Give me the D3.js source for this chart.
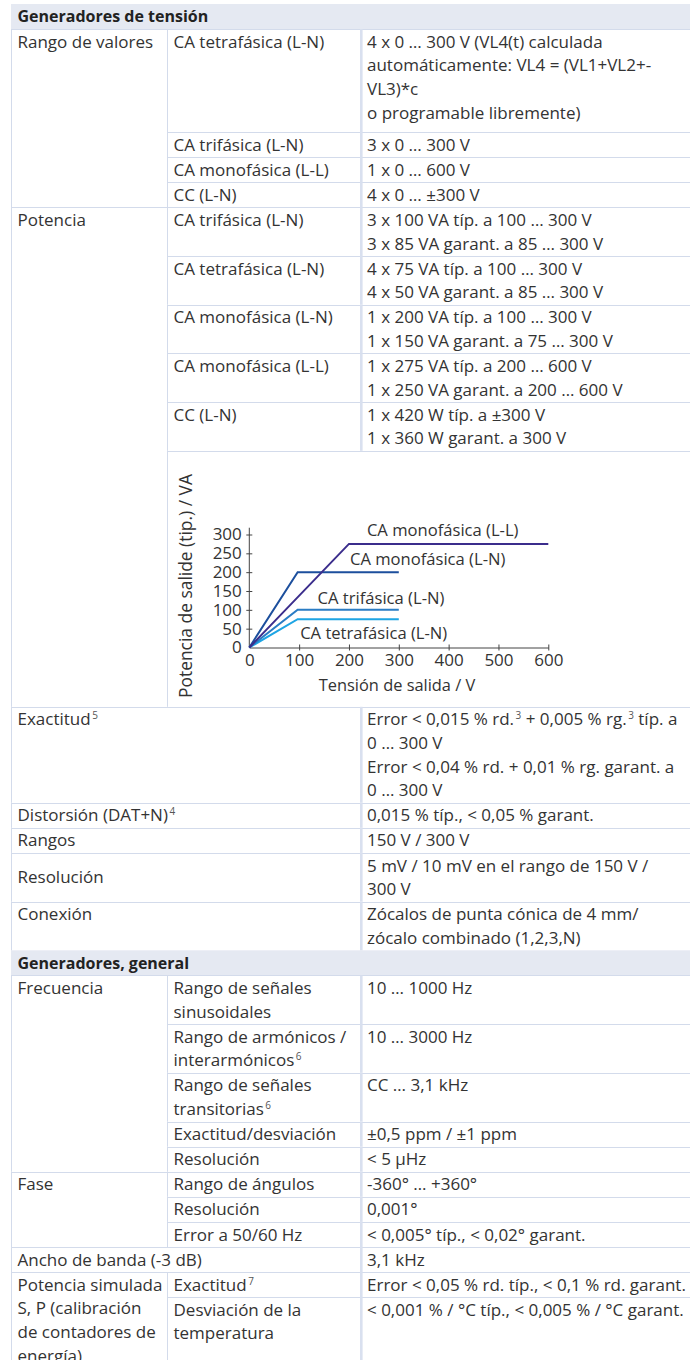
<!DOCTYPE html>
<html><head><meta charset="utf-8">
<script src="https://cdn.jsdelivr.net/npm/d3@7"></script>
<style>
html,body{margin:0;padding:0;background:#fff;}
svg{display:block;}
text{font-family:"Open Sans",sans-serif;fill:#333;}
</style></head><body>
<svg id="c" width="698" height="1360"></svg>
<script>
// ---------- chart data ----------
const xTicks = [0, 100, 200, 300, 400, 500, 600];
const yTicks = [0, 50, 100, 150, 200, 250, 300];
const xTitle = "Tensión de salida / V";
const yTitle = "Potencia de salide (tip.) / VA";
const llName = "CA monofásica (L-L)";
const llVolt = [0, 200, 600];
const llPower = [0, 275, 275];
const lnName = "CA monofásica (L-N)";
const lnVolt = [0, 97, 300];
const lnPower = [0, 200, 200];
const triName = "CA trifásica (L-N)";
const triVolt = [0, 97, 300];
const triPower = [0, 100, 100];
const tetraName = "CA tetrafásica (L-N)";
const tetraVolt = [0, 97, 300];
const tetraPower = [0, 75, 75];

// ---------- table text ----------
const section1 = "Generadores de tensión";
const section2 = "Generadores, general";
const tableRows = [
 {head: section1},
 {extra: 7, cells:[{c:0,rs:4,t:["Rango de valores"]},{c:1,t:["CA tetrafásica (L-N)"]},{c:2,t:["4 x 0 … 300 V (VL4(t) calculada","automáticamente: VL4 = (VL1+VL2+-","VL3)*c","o programable libremente)"]}]},
 {cells:[{c:1,t:["CA trifásica (L-N)"]},{c:2,t:["3 x 0 … 300 V"]}]},
 {cells:[{c:1,t:["CA monofásica (L-L)"]},{c:2,t:["1 x 0 … 600 V"]}]},
 {cells:[{c:1,t:["CC (L-N)"]},{c:2,t:["4 x 0 … ±300 V"]}]},
 {cells:[{c:0,rs:6,t:["Potencia"]},{c:1,t:["CA trifásica (L-N)"]},{c:2,t:["3 x 100 VA típ. a 100 … 300 V","3 x 85 VA garant. a 85 … 300 V"]}]},
 {cells:[{c:1,t:["CA tetrafásica (L-N)"]},{c:2,t:["4 x 75 VA típ. a 100 … 300 V","4 x 50 VA garant. a 85 … 300 V"]}]},
 {cells:[{c:1,t:["CA monofásica (L-N)"]},{c:2,t:["1 x 200 VA típ. a 100 … 300 V","1 x 150 VA garant. a 75 … 300 V"]}]},
 {cells:[{c:1,t:["CA monofásica (L-L)"]},{c:2,t:["1 x 275 VA típ. a 200 … 600 V","1 x 250 VA garant. a 200 … 600 V"]}]},
 {cells:[{c:1,t:["CC (L-N)"]},{c:2,t:["1 x 420 W típ. a ±300 V","1 x 360 W garant. a 300 V"]}]},
 {chart:true, cells:[{c:1,cs:2,chart:true,t:[]}]},
 {cells:[{c:0,cs:2,t:["Exactitud^5"]},{c:2,t:["Error < 0,015 % rd.^3 + 0,005 % rg.^3 típ. a","0 … 300 V","Error < 0,04 % rd. + 0,01 % rg. garant. a","0 … 300 V"]}]},
 {cells:[{c:0,cs:2,t:["Distorsión (DAT+N)^4"]},{c:2,t:["0,015 % típ., < 0,05 % garant."]}]},
 {cells:[{c:0,cs:2,t:["Rangos"]},{c:2,t:["150 V / 300 V"]}]},
 {cells:[{c:0,cs:2,t:["Resolución"],mid:true},{c:2,t:["5 mV / 10 mV en el rango de 150 V /","300 V"]}]},
 {cells:[{c:0,cs:2,t:["Conexión"]},{c:2,t:["Zócalos de punta cónica de 4 mm/","zócalo combinado (1,2,3,N)"]}]},
 {head: section2},
 {cells:[{c:0,rs:5,t:["Frecuencia"]},{c:1,t:["Rango de señales","sinusoidales"]},{c:2,t:["10 … 1000 Hz"]}]},
 {cells:[{c:1,t:["Rango de armónicos /","interarmónicos^6"]},{c:2,t:["10 … 3000 Hz"]}]},
 {cells:[{c:1,t:["Rango de señales","transitorias^6"]},{c:2,t:["CC … 3,1 kHz"]}]},
 {cells:[{c:1,t:["Exactitud/desviación"]},{c:2,t:["±0,5 ppm / ±1 ppm"]}]},
 {cells:[{c:1,t:["Resolución"]},{c:2,t:["< 5 µHz"]}]},
 {cells:[{c:0,rs:3,t:["Fase"]},{c:1,t:["Rango de ángulos"]},{c:2,t:["-360° … +360°"]}]},
 {cells:[{c:1,t:["Resolución"]},{c:2,t:["0,001°"]}]},
 {cells:[{c:1,t:["Error a 50/60 Hz"]},{c:2,t:["< 0,005° típ., < 0,02° garant."]}]},
 {cells:[{c:0,cs:2,t:["Ancho de banda (-3 dB)"]},{c:2,t:["3,1 kHz"]}]},
 {cells:[{c:0,rs:2,t:["Potencia simulada","S, P (calibración","de contadores de","energía)"]},{c:1,t:["Exactitud^7"]},{c:2,t:["Error < 0,05 % rd. típ., < 0,1 % rd. garant."]}]},
 {cells:[{c:1,t:["Desviación de la","temperatura"]},{c:2,t:["< 0,001 % / °C típ., < 0,005 % / °C garant."]}]}
];

// ---------- layout ----------
const FS = 17, HFS = 16, LH = 23.6, PAD = 1.5, TOP = 4, CHART_H = 256;
const colX = [11, 167, 361, 690];
const TXT_PAD = 6;
const lineCol = "#d3dbeb", headBg = "#e5e9f2";

const svg = d3.select("#c");
const gBg = svg.append("g"), gLines = svg.append("g"), gText = svg.append("g"), gChart = svg.append("g");

const heights = tableRows.map(r => {
  if (r.head) return LH + PAD;
  if (r.chart) return CHART_H;
  const m = d3.max(r.cells.filter(c => !c.rs || c.rs === 1), c => c.t.length) || 1;
  return m * LH + PAD + (r.extra || 0);
});
tableRows.forEach((r, i) => {
  if (!r.cells) return;
  r.cells.forEach(c => {
    if (c.rs && c.rs > 1) {
      const need = c.t.length * LH + PAD;
      const have = d3.sum(heights.slice(i, i + c.rs));
      if (need > have) heights[i + c.rs - 1] += need - have;
    }
  });
});
const tops = [];
let yy = TOP;
heights.forEach(h => { tops.push(yy); yy += h; });

function writeLine(sel, str) {
  const parts = str.split(/\^(\d)/);
  parts.forEach((p, k) => {
    if (k % 2 === 0) {
      if (p) sel.append("tspan").text(p).attr("dy", k > 0 ? 6 : null);
    } else {
      sel.append("tspan").text(p).attr("font-size", 10).attr("dx", 1.5).attr("dy", -6).style("fill", "#555");
    }
  });
}

tableRows.forEach((r, i) => {
  const y0 = tops[i];
  if (r.head) {
    gBg.append("rect").attr("x", colX[0]).attr("y", y0).attr("width", colX[3] - colX[0]).attr("height", heights[i]).attr("fill", headBg);
    gText.append("text").attr("x", colX[0] + TXT_PAD + 0.5).attr("y", y0 + PAD / 2 + LH / 2 + 0.36 * HFS)
      .attr("font-size", HFS).attr("font-weight", "bold").style("fill", "#222").text(r.head);
    return;
  }
  r.cells.forEach(c => {
    const rs = c.rs || 1, cs = c.cs || 1;
    const x0 = colX[c.c], x1 = colX[c.c + cs];
    const h = d3.sum(heights.slice(i, i + rs));
    gLines.append("line").attr("x1", x0).attr("x2", x1).attr("y1", Math.round(y0) + 0.5).attr("y2", Math.round(y0) + 0.5)
      .attr("stroke", lineCol).attr("stroke-width", 1);
    if (c.c === 2) {
      gLines.append("line").attr("x1", x0 + 0.3).attr("x2", x0 + 0.3).attr("y1", y0).attr("y2", y0 + h)
        .attr("stroke", "#d9e0ef").attr("stroke-width", 2.6);
    } else {
      gLines.append("line").attr("x1", x0 + 0.5).attr("x2", x0 + 0.5).attr("y1", y0).attr("y2", y0 + h)
        .attr("stroke", lineCol).attr("stroke-width", 1);
    }
    if (c.chart) { drawChart(); return; }
    const block = c.t.length * LH;
    const startY = c.mid ? y0 + (h - block) / 2 : y0 + PAD / 2;
    c.t.forEach((ln, k) => {
      const t = gText.append("text").attr("x", x0 + TXT_PAD + (c.c === 2 ? 0 : 0.5))
        .attr("y", startY + k * LH + LH / 2 + 0.36 * FS).attr("font-size", FS);
      writeLine(t, ln);
    });
  });
});

// ---------- chart ----------
function drawChart() {
  const x = d3.scaleLinear().domain([0, 600]).range([249.3, 548.3]);
  const y = d3.scaleLinear().domain([0, 300]).range([647.5, 534.5]);
  const yTop = 318;
  const axCol = "#444";
  const gx = gChart.append("g").attr("transform", `translate(0,${y(0)})`)
    .call(d3.axisBottom(x).tickValues(xTicks).tickSizeInner(3).tickSizeOuter(0).tickPadding(3.5));
  const gy = gChart.append("g").attr("transform", `translate(${x(0)},0)`)
    .call(d3.axisLeft(y).tickValues(yTicks).tickSizeInner(3).tickSizeOuter(0).tickPadding(4.5));
  gy.select(".domain").attr("d", `M0,${y(0)}V${y(yTop)}`);
  [gx, gy].forEach(g => {
    g.attr("font-family", null).attr("font-size", null);
    g.select(".domain").attr("stroke", axCol);
    g.selectAll(".tick line").attr("stroke", axCol);
    g.selectAll(".tick text").attr("font-size", 17).style("fill", "#333");
  });
  gx.selectAll(".tick line").attr("y1", -3);
  gy.selectAll(".tick line").attr("x1", 3);
  gx.selectAll(".tick").filter(d => d === 0).select("line").remove();
  gy.selectAll(".tick").filter(d => d === 0).select("line").remove();

  const series = [
    {name: tetraName, vx: tetraVolt, vy: tetraPower, col: "#1ea5e4", lx: 102, ly: 41},
    {name: triName, vx: triVolt, vy: triPower, col: "#2a7cc4", lx: 137, ly: 134},
    {name: lnName, vx: lnVolt, vy: lnPower, col: "#1c4f9d", lx: 202, ly: 235},
    {name: llName, vx: llVolt, vy: llPower, col: "#3b2d8c", lx: 236, ly: 312}
  ];
  const line = d3.line().x(d => x(d[0])).y(d => y(d[1]));
  series.forEach(s => {
    const pts = s.vx.map((v, i) => [v, s.vy[i]]);
    gChart.append("path").attr("d", line(pts)).attr("fill", "none").attr("stroke", s.col).attr("stroke-width", 2);
    gChart.append("text").attr("x", x(s.lx)).attr("y", y(s.ly)).attr("dominant-baseline", "central")
      .attr("font-size", 16.6).text(s.name);
  });
  gChart.append("text").attr("x", 397).attr("y", 684).attr("text-anchor", "middle").attr("dominant-baseline", "central")
    .attr("font-size", 16.4).text(xTitle);
  gChart.append("text").attr("transform", "translate(185,586) rotate(-90)").attr("text-anchor", "middle")
    .attr("dominant-baseline", "central").attr("font-size", 17.4).text(yTitle);
}
</script>
</body></html>
